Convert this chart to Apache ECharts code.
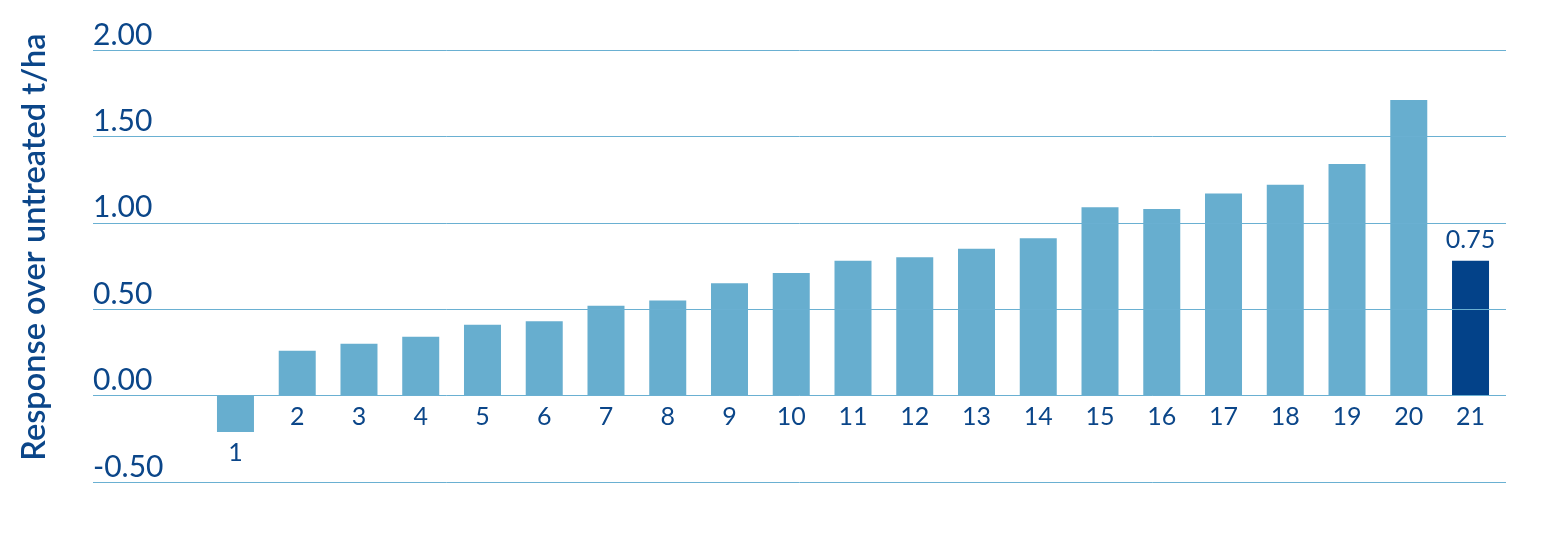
<!DOCTYPE html>
<html>
<head>
<meta charset="utf-8">
<script src="https://cdn.jsdelivr.net/npm/echarts@6/dist/echarts.min.js"></script>
<style>
  html, body { margin: 0; padding: 0; background: #fff; }
  #main { width: 1554px; height: 541px; }
</style>
</head>
<body>
<div id="main"></div>
<script>
// data
var categories = ['1','2','3','4','5','6','7','8','9','10','11','12','13','14','15','16','17','18','19','20','21'];
var responses = [-0.21, 0.26, 0.30, 0.34, 0.41, 0.43, 0.52, 0.55, 0.65, 0.71, 0.78, 0.80, 0.85, 0.91, 1.09, 1.08, 1.17, 1.22, 1.34, 1.71, 0.78];
var highlightIndex = 20;
var highlightLabel = '0.75';
var yTicks = [-0.5, 0, 0.5, 1, 1.5, 2];
var yTitle = 'Response over untreated t/ha';

var textColor = '#0b4689';
var lightBar = '#67aecf';
var darkBar = '#034289';
var gridColor = '#6ab0d2';

var myChart = echarts.init(document.getElementById('main'));

var barData = responses.map(function(v, i) {
    return {
        value: v,
        itemStyle: { color: i === highlightIndex ? darkBar : lightBar }
    };
});

// overlay series only carries the top value label of the highlighted bar
var topLabelData = responses.map(function(v, i) {
    return {
        value: v,
        label: { show: i === highlightIndex }
    };
});

var option = {
    backgroundColor: '#fff',
    animation: false,
    textStyle: { fontFamily: 'Lato' },
    grid: [
        { left: 93, right: 48, top: 50, bottom: 59 },
        { left: 204.6, right: 52.6, top: 50, bottom: 59 }
    ],
    xAxis: [
        { gridIndex: 0, type: 'value', show: false, min: 0, max: 1 },
        {
            gridIndex: 1,
            type: 'category',
            data: categories,
            axisLine: { show: false },
            axisTick: { show: false },
            axisLabel: { show: false }
        }
    ],
    yAxis: [
        {
            gridIndex: 0,
            type: 'value',
            min: yTicks[0],
            max: yTicks[yTicks.length - 1],
            interval: 0.5,
            z: 5,
            axisLine: { show: false },
            axisTick: { show: false },
            axisLabel: {
                inside: true,
                margin: 0,
                align: 'left',
                verticalAlign: 'bottom',
                fontSize: 30,
                color: textColor,
                fontFamily: 'Lato',
                formatter: function(v) { return v.toFixed(2); }
            },
            splitLine: { lineStyle: { color: gridColor, width: 1 } }
        },
        {
            gridIndex: 1,
            type: 'value',
            min: yTicks[0],
            max: yTicks[yTicks.length - 1],
            interval: 0.5,
            show: false
        }
    ],
    graphic: [{
        type: 'text',
        x: 35,
        y: 247,
        rotation: Math.PI / 2,
        style: {
            text: yTitle,
            fill: textColor,
            font: '600 32.5px Lato',
            align: 'center',
            verticalAlign: 'middle'
        }
    }],
    series: [
        {
            type: 'bar',
            xAxisIndex: 1,
            yAxisIndex: 1,
            barWidth: 37,
            data: barData,
            label: {
                show: true,
                position: 'bottom',
                distance: 9,
                formatter: '{b}',
                fontSize: 25,
                color: textColor,
                fontFamily: 'Lato'
            }
        },
        {
            type: 'bar',
            xAxisIndex: 1,
            yAxisIndex: 1,
            barWidth: 37,
            barGap: '-100%',
            itemStyle: { color: 'rgba(0,0,0,0)' },
            data: topLabelData,
            label: {
                position: 'top',
                distance: 8,
                formatter: function() { return highlightLabel; },
                fontSize: 25,
                color: textColor,
                fontFamily: 'Lato'
            },
            silent: true
        }
    ]
};

myChart.setOption(option);
</script>
</body>
</html>
